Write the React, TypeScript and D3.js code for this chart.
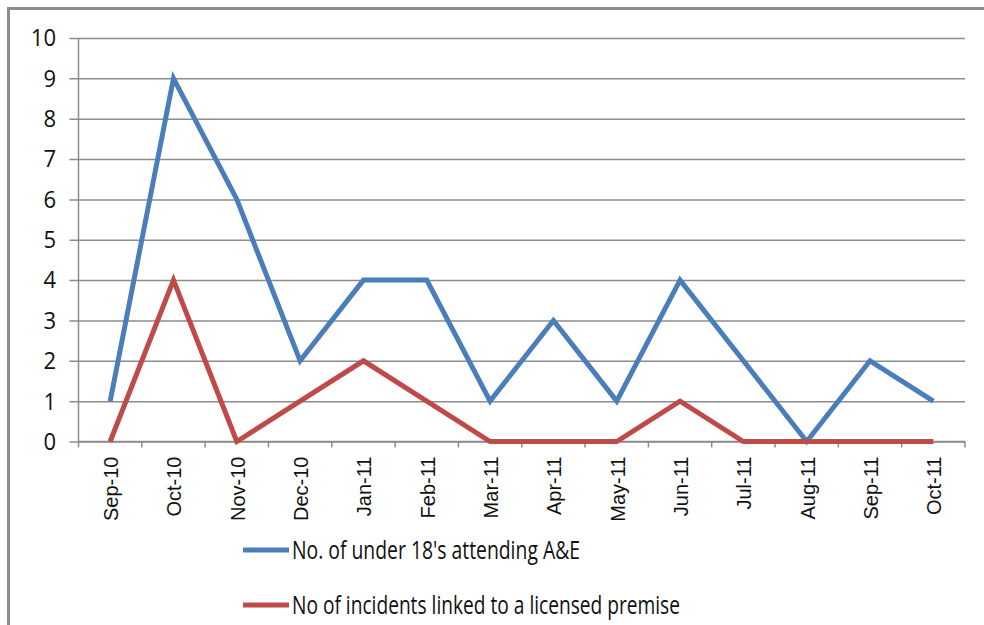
import React, { useEffect, useRef } from "react";
import * as d3 from "d3";

const months = ["Sep-10", "Oct-10", "Nov-10", "Dec-10", "Jan-11", "Feb-11", "Mar-11", "Apr-11", "May-11", "Jun-11", "Jul-11", "Aug-11", "Sep-11", "Oct-11"];
const attending = [1, 9, 6, 2, 4, 4, 1, 3, 1, 4, 2, 0, 2, 1];
const incidents = [0, 4, 0, 1, 2, 1, 0, 0, 0, 1, 0, 0, 0, 0];
const yTicks = [0, 1, 2, 3, 4, 5, 6, 7, 8, 9, 10];
const seriesNames = ["No. of under 18's attending A&E", "No of incidents linked to a licensed premise"];
const seriesColors = ["#4a7ebb", "#be4b48"];

const W = 984;
const H = 625;

export default function App() {
  const ref = useRef<SVGSVGElement>(null);

  useEffect(() => {
    const svg = d3.select(ref.current);
    svg.selectAll("*").remove();

    const margin = { left: 78.5, right: 19, top: 38, bottom: 183.5 };
    const x = d3.scaleBand<string>().domain(months).range([margin.left, W - margin.right]);
    const y = d3.scaleLinear().domain([0, 10]).range([H - margin.bottom, margin.top]);

    // outer border of the chart frame
    svg.append("rect")
      .attr("x", 8.5).attr("y", 8.5)
      .attr("width", W + 20).attr("height", H + 20)
      .attr("fill", "#fff")
      .attr("stroke", "#8c8c8c").attr("stroke-width", 3);

    // gridlines + y axis
    const yAxis = d3.axisLeft(y).tickValues(yTicks).tickSize(-(W - margin.right - margin.left)).tickSizeOuter(0).tickPadding(25);
    const gy = svg.append("g").attr("transform", `translate(${margin.left},0)`).call(yAxis);
    gy.select(".domain").remove();
    gy.selectAll(".tick line").attr("stroke", "#8c8c8c").attr("stroke-width", 1.5).attr("x1", -9);
    gy.selectAll(".tick text")
      .attr("fill", "#111")
      .attr("transform", "scale(0.9,1)")
      .style("font-family", "'Open Sans', 'Liberation Sans', sans-serif")
      .style("font-size", "24.5px");

    svg.append("line")
      .attr("x1", margin.left).attr("x2", margin.left)
      .attr("y1", margin.top).attr("y2", y(0) + 6)
      .attr("stroke", "#8c8c8c").attr("stroke-width", 1.5);

    // x axis with ticks on category boundaries
    const gx = svg.append("g").attr("transform", `translate(0,${y(0)})`);
    gx.append("line")
      .attr("x1", margin.left).attr("x2", W - margin.right)
      .attr("stroke", "#8c8c8c").attr("stroke-width", 1.5);
    gx.selectAll(".xt")
      .data(months.slice(1).concat(["end"]))
      .enter().append("line")
      .attr("class", "xt")
      .attr("x1", (d, i) => margin.left + (i + 1) * x.bandwidth())
      .attr("x2", (d, i) => margin.left + (i + 1) * x.bandwidth())
      .attr("y1", 0).attr("y2", 6)
      .attr("stroke", "#8c8c8c").attr("stroke-width", 1.5);
    gx.selectAll(".xl")
      .data(months)
      .enter().append("text")
      .attr("class", "xl")
      .attr("transform", d => `translate(${x(d)! + x.bandwidth() / 2 + 1},15) rotate(-90)`)
      .attr("dy", "0.35em")
      .attr("text-anchor", "end")
      .attr("fill", "#111")
      .style("font-family", "'Liberation Sans', Arial, sans-serif")
      .style("font-size", "20px")
      .text(d => d);

    // series lines
    const line = d3.line<number>()
      .x((d, i) => x(months[i])! + x.bandwidth() / 2)
      .y(d => y(d));

    [attending, incidents].forEach((values, k) => {
      svg.append("path")
        .datum(values)
        .attr("d", line)
        .attr("fill", "none")
        .attr("stroke", seriesColors[k])
        .attr("stroke-width", 5)
        .attr("stroke-linejoin", "miter");
    });

    // legend
    const legend = svg.append("g");
    const legendY = [550, 605];
    const legendLen = [288, 388];
    seriesNames.forEach((name, k) => {
      legend.append("line")
        .attr("x1", 243).attr("x2", 289)
        .attr("y1", legendY[k]).attr("y2", legendY[k])
        .attr("stroke", seriesColors[k]).attr("stroke-width", 5);
      legend.append("text")
        .attr("x", 292).attr("y", legendY[k] + 9)
        .attr("fill", "#111")
        .attr("textLength", legendLen[k])
        .attr("lengthAdjust", "spacingAndGlyphs")
        .style("font-family", "'Open Sans', 'Liberation Sans', sans-serif")
        .style("font-size", "25.5px")
        .text(name);
    });
  }, []);

  return (
    <svg ref={ref} width={W} height={H}
      style={{ position: "absolute", left: 0, top: 0, background: "#fff" }} />
  );
}
